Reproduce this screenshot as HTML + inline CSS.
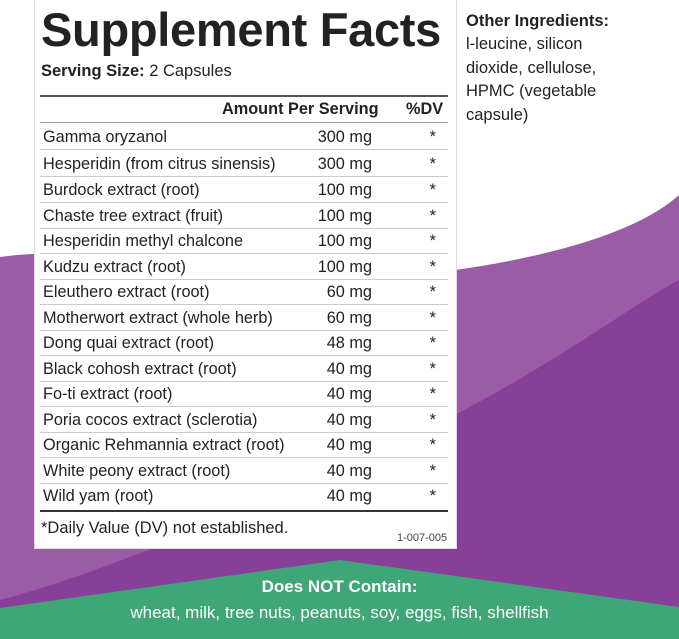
<!DOCTYPE html>
<html><head><meta charset="utf-8"><style>
body{margin:0;width:679px;height:639px;overflow:hidden;position:relative;background:#fff;font-family:"Liberation Sans",sans-serif;color:#222}
svg.bg{position:absolute;left:0;top:0}
.panel{position:absolute;left:34px;top:0;width:421px;height:548px;background:#fff;border-left:1px solid #ddd;border-right:1px solid #ddd;border-bottom:1px solid #ddd}
.t{position:absolute;white-space:nowrap}
.row{position:absolute;left:40px;width:408px;height:25px;border-bottom:1px solid #ccc;font-size:16.3px}
.row span{position:absolute;top:4px}
.n{left:3px}.a{right:76px}.s{right:12px}
</style></head><body>
<svg class="bg" width="679" height="639">
<path d="M0 257 C120 240 300 290 455 270 C560 255 640 230 679 195 L679 639 L0 639Z" fill="#9a5ca6"/>
<path d="M455 415 C560 360 640 300 679 280 L679 639 L0 639 L0 600 C150 560 330 470 455 415Z" fill="#873f97"/>
<path d="M0 608 L340 560 L679 607 L679 639 L0 639Z" fill="#3ea677"/>
</svg>
<div class="panel"></div>
<div class="t" style="left:41px;top:2px;font-weight:bold;font-size:47px;color:#222;letter-spacing:-0.3px">Supplement Facts</div>
<div class="t" style="left:41px;top:62px;font-size:16.5px"><b>Serving Size:</b> 2 Capsules</div>
<div style="position:absolute;left:40px;top:95px;width:408px;height:2px;background:#555"></div>
<div class="t" style="left:222px;top:100px;font-size:16.3px;font-weight:bold">Amount Per Serving</div>
<div class="t" style="left:406px;top:100px;font-size:16.3px;font-weight:bold">%DV</div>
<div style="position:absolute;left:40px;top:122px;width:408px;height:1px;background:#999"></div>
<div class="row" style="top:124px"><span class="n">Gamma oryzanol</span><span class="a">300 mg</span><span class="s">*</span></div>
<div class="row" style="top:151px"><span class="n">Hesperidin (from citrus sinensis)</span><span class="a">300 mg</span><span class="s">*</span></div>
<div class="row" style="top:177px"><span class="n">Burdock extract (root)</span><span class="a">100 mg</span><span class="s">*</span></div>
<div class="row" style="top:203px"><span class="n">Chaste tree extract (fruit)</span><span class="a">100 mg</span><span class="s">*</span></div>
<div class="row" style="top:228px"><span class="n">Hesperidin methyl chalcone</span><span class="a">100 mg</span><span class="s">*</span></div>
<div class="row" style="top:254px"><span class="n">Kudzu extract (root)</span><span class="a">100 mg</span><span class="s">*</span></div>
<div class="row" style="top:279px"><span class="n">Eleuthero extract (root)</span><span class="a">60 mg</span><span class="s">*</span></div>
<div class="row" style="top:305px"><span class="n">Motherwort extract (whole herb)</span><span class="a">60 mg</span><span class="s">*</span></div>
<div class="row" style="top:330px"><span class="n">Dong quai extract (root)</span><span class="a">48 mg</span><span class="s">*</span></div>
<div class="row" style="top:356px"><span class="n">Black cohosh extract (root)</span><span class="a">40 mg</span><span class="s">*</span></div>
<div class="row" style="top:381px"><span class="n">Fo-ti extract (root)</span><span class="a">40 mg</span><span class="s">*</span></div>
<div class="row" style="top:407px"><span class="n">Poria cocos extract (sclerotia)</span><span class="a">40 mg</span><span class="s">*</span></div>
<div class="row" style="top:432px"><span class="n">Organic Rehmannia extract (root)</span><span class="a">40 mg</span><span class="s">*</span></div>
<div class="row" style="top:458px"><span class="n">White peony extract (root)</span><span class="a">40 mg</span><span class="s">*</span></div>
<div class="row" style="top:483px;border-bottom:2px solid #333;height:27px"><span class="n">Wild yam (root)</span><span class="a">40 mg</span><span class="s">*</span></div>
<div class="t" style="left:41px;top:519px;font-size:16.5px">*Daily Value (DV) not established.</div>
<div class="t" style="left:397px;top:532px;font-size:11px;color:#444">1-007-005</div>
<div class="t" style="left:466px;top:9px;font-size:16.5px;font-weight:bold;line-height:24px">Other Ingredients:</div>
<div class="t" style="left:466px;top:33px;font-size:16.5px;line-height:23.5px">l-leucine, silicon<br>dioxide, cellulose,<br>HPMC (vegetable<br>capsule)</div>
<div class="t" style="left:0;width:679px;text-align:center;top:577px;font-size:17px;font-weight:bold;color:#fff">Does NOT Contain:</div>
<div class="t" style="left:0;width:679px;text-align:center;top:603px;font-size:17px;color:#fff">wheat, milk, tree nuts, peanuts, soy, eggs, fish, shellfish</div>
</body></html>
